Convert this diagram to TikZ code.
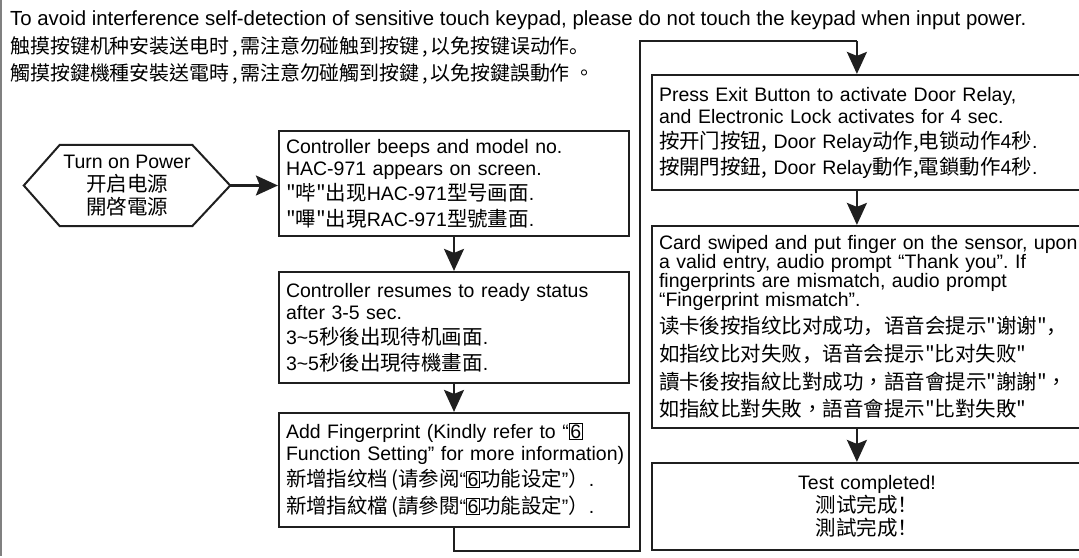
\documentclass[tikz,border=0pt]{standalone}
\usepackage{fontspec}
\setmainfont{Liberation Sans}
\newfontfamily\cjs[Scale=1.05]{Noto Sans CJK SC}
\newfontfamily\cjt[Scale=1.05]{Noto Sans CJK TC}
\usetikzlibrary{arrows.meta,calc}
\newcommand{\bsix}{{\setlength{\fboxsep}{0.6pt}\setlength{\fboxrule}{0.9pt}\fbox{\normalfont 6}}}
\newcommand{\hc}{\kern3pt,\kern2pt}
\frenchspacing
\tikzset{
  box/.style={draw=black!88, line width=2.2pt, fill=white, rectangle,
    inner xsep=7pt, inner ysep=0pt, align=left},
  conn/.style={draw=black!88, line width=2.2pt,
    -{Stealth[length=22pt,width=20pt,inset=4pt]}},
  hdr/.style={anchor=base west, inner sep=0pt, font=\fontsize{20.4}{22}\selectfont},
  hdrc/.style={anchor=base west, inner sep=0pt, font=\fontsize{19}{22}\selectfont}
}
\begin{document}
\begin{tikzpicture}[x=1pt,y=-1pt,font=\fontsize{19.5}{22}\selectfont]
\useasboundingbox (0,0) rectangle (1079,557);
\clip (0,0) rectangle (1079,557);
\fill[white] (0,0) rectangle (1079,557);
\draw[gray, line width=2pt] (1,0) -- (1,556);

% header
\node[hdr] (h1) at (10,25) {To avoid interference self-detection of sensitive touch keypad, please do not touch the keypad when input power.};
\node[hdrc] (h2) at (10,53) {\cjs 触摸按键机种安装送电时\hc 需注意勿碰触到按键\hc 以免按键误动作。};
\node[hdrc] (h3) at (10,80) {\cjt 觸摸按鍵機種安裝送電時\hc 需注意勿碰觸到按鍵\hc 以免按鍵誤動作 。};

% power hexagon
\node[inner sep=0pt, minimum width=206pt, minimum height=81pt, align=center] (pw) at (127,185.5)
  {Turn on Power\\[1pt]{\cjs 开启电源}\\[1pt]{\cjt 開啓電源}};
\draw[draw=black!88, line width=2pt] (pw.west) -- ($(pw.north west)+(36,0)$) -- ($(pw.north east)+(-38,0)$)
  -- (pw.east) -- ($(pw.south east)+(-38,0)$) -- ($(pw.south west)+(36,0)$) -- cycle;

% left column
\node[box, minimum width=350pt, minimum height=105pt, text width=336pt] (b1) at (454,183.5)
  {Controller beeps and model no.\\
   HAC-971 appears on screen.\\[3pt]
   {\cjs "哔"出现}HAC-971{\cjs 型号画面}.\\[4pt]
   {\cjt "嗶"出現}RAC-971{\cjt 型號畫面}.};
\node[box, minimum width=350pt, minimum height=111pt, text width=336pt] (b2) at (454,327.5)
  {Controller resumes to ready status\\
   after 3-5 sec.\\[3pt]
   3\textasciitilde5{\cjs 秒後出现待机画面}.\\[4pt]
   3\textasciitilde5{\cjt 秒後出現待機畫面}.};
\node[box, minimum width=350pt, minimum height=114pt, text width=336pt] (b3) at (454,470)
  {\mbox{Add Fingerprint (Kindly refer to “\bsix}\\
   \mbox{Function Setting” for more information)}\\[4pt]
   \mbox{{\cjs 新增指纹档\kern3pt(请参阅}“\bsix{\cjs 功能设定}”{\cjs ）}.}\\[5pt]
   \mbox{{\cjt 新增指紋檔\kern3pt(請參閱}“\bsix{\cjt 功能設定}”{\cjt ）}.}};

% right column
\node[box, minimum width=430pt, minimum height=115pt, text width=416pt] (b4) at (867,132.5)
  {Press Exit Button to activate Door Relay,\\
   and Electronic Lock activates for 4 sec.\\[3pt]
   {\cjs 按开门按钮,} Door Relay{\cjs 动作,电锁动作}4{\cjs 秒}.\\[4pt]
   {\cjt 按開門按鈕,} Door Relay{\cjt 動作,電鎖動作}4{\cjt 秒}.};
\node[box, minimum width=430pt, minimum height=202pt, text width=416pt] (b5) at (867,327)
  {\mbox{Card swiped and put finger on the sensor, upon}\\[-3pt]
   a valid entry, audio prompt “Thank you”. If\\[-3pt]
   fingerprints are mismatch, audio prompt\\[-3pt]
   “Fingerprint mismatch”.\\[5pt]
   \mbox{\cjs 读卡後按指纹比对成功，语音会提示"谢谢"，}\\[6pt]
   \mbox{\cjs 如指纹比对失败，语音会提示"比对失败"}\\[6pt]
   \mbox{\cjt 讀卡後按指紋比對成功，語音會提示"謝謝"，}\\[5pt]
   \mbox{\cjt 如指紋比對失敗，語音會提示"比對失敗"}};
\node[box, minimum width=430pt, minimum height=87pt, text width=416pt, align=center] (b6) at (867,506.5)
  {Test completed!\\[1pt]{\cjs 测试完成！}\\[1pt]{\cjt 測試完成}{\cjs ！}};

% connectors
\draw[conn] (pw.east) -- (pw.east -| b1.west);
\draw[conn] (b1.south) -- (b2.north);
\draw[conn] (b2.south) -- (b3.north);
\coordinate (c1) at (454,551);
\coordinate (c2) at (640,551);
\coordinate (c3) at (640,41);
\coordinate (a4) at ($(b4.north west)+(206,0)$);
\coordinate (a5) at ($(b5.north west)+(206,0)$);
\coordinate (a6) at ($(b6.north west)+(206,0)$);
\draw[draw=black!88, line width=2.2pt] (b3.south) -- (c1) -- (c2) -- (c3) -- (c3 -| a4);
\draw[conn] (c3 -| a4) -- (a4);
\draw[conn] (b4.south -| a4) -- (a5);
\draw[conn] (b5.south -| a4) -- (a6);
\end{tikzpicture}
\end{document}
